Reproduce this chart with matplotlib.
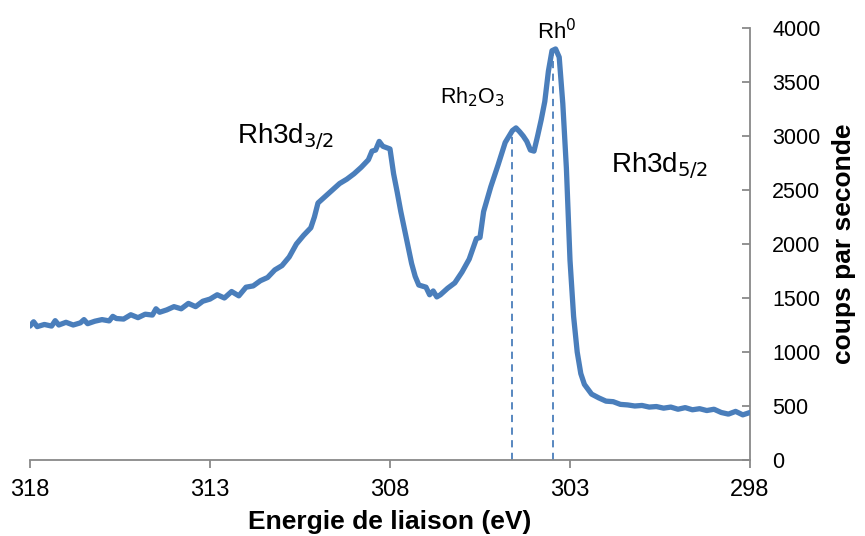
"""XPS spectrum of the Rh3d region (coups par seconde vs energie de liaison)."""

import matplotlib
matplotlib.use("Agg")
import matplotlib.pyplot as plt

# ---------------------------------------------------------------------------
# Data
# ---------------------------------------------------------------------------
energy = [
    318.0, 317.9, 317.8, 317.6, 317.4, 317.3, 317.2, 317.0, 316.8, 316.6,
    316.5, 316.4, 316.2, 316.0, 315.8, 315.7, 315.6, 315.4, 315.2, 315.0,
    314.8, 314.6, 314.5, 314.4, 314.2, 314.0, 313.8, 313.6, 313.4, 313.2,
    313.0, 312.8, 312.6, 312.4, 312.2, 312.0, 311.8, 311.6, 311.4, 311.2,
    311.0, 310.8, 310.6, 310.4, 310.2, 310.1, 310.0, 309.8, 309.6, 309.4,
    309.2, 309.0, 308.8, 308.6, 308.5, 308.4, 308.3, 308.2, 308.0, 307.9,
    307.8, 307.7, 307.6, 307.5, 307.4, 307.3, 307.2, 307.0, 306.9, 306.8,
    306.7, 306.6, 306.4, 306.2, 306.0, 305.8, 305.6, 305.5, 305.4, 305.2,
    305.0, 304.8, 304.6, 304.5, 304.4, 304.3, 304.2, 304.1, 304.0, 303.9,
    303.8, 303.7, 303.6, 303.5, 303.4, 303.3, 303.2, 303.1, 303.0, 302.9,
    302.8, 302.7, 302.6, 302.4, 302.2, 302.0, 301.8, 301.6, 301.4, 301.2,
    301.0, 300.8, 300.6, 300.4, 300.2, 300.0, 299.8, 299.6, 299.4, 299.2,
    299.0, 298.8, 298.6, 298.4, 298.2, 298.0,
]
counts = [
    1240, 1280, 1235, 1255, 1240, 1290, 1250, 1275, 1250, 1270,
    1300, 1262, 1285, 1300, 1288, 1330, 1310, 1305, 1345, 1318,
    1350, 1342, 1400, 1368, 1390, 1420, 1400, 1450, 1420, 1470,
    1490, 1530, 1500, 1560, 1520, 1600, 1612, 1660, 1690, 1760,
    1800, 1880, 2000, 2080, 2150, 2250, 2380, 2440, 2500, 2560,
    2600, 2650, 2710, 2780, 2860, 2870, 2950, 2905, 2880, 2650,
    2480, 2300, 2140, 1980, 1820, 1700, 1620, 1600, 1530, 1565,
    1510, 1530, 1590, 1640, 1740, 1860, 2050, 2060, 2300, 2530,
    2730, 2940, 3050, 3075, 3040, 3000, 2950, 2870, 2860, 3000,
    3150, 3320, 3600, 3790, 3806, 3730, 3300, 2700, 1850, 1330,
    1000, 800, 700, 610, 575, 545, 540, 515, 510, 500,
    505, 490, 495, 480, 490, 470, 485, 465, 475, 458,
    470, 440, 425, 450, 418, 440,
]

# Peak positions marked with dashed lines (energy, counts at top)
marker_energy = [304.6, 303.47]
marker_counts = [3060, 3790]

x_ticks = [318, 313, 308, 303, 298]
y_ticks = [0, 500, 1000, 1500, 2000, 2500, 3000, 3500, 4000]

LINE_COLOR = "#4a7ebb"
AXIS_COLOR = "#898989"

plt.rcParams["font.family"] = ["Liberation Sans", "DejaVu Sans"]

fig = plt.figure(figsize=(8.65, 5.36), dpi=100)
ax = fig.add_axes([30 / 865, 1 - 460 / 536, 720 / 865, 432 / 536])

ax.plot(energy, counts, color=LINE_COLOR, linewidth=3.8,
        solid_joinstyle="round", solid_capstyle="round", zorder=3)

for e, c in zip(marker_energy, marker_counts):
    ax.plot([e, e], [0, c], color=LINE_COLOR, linewidth=1.3,
            linestyle=(0, (4, 3)), zorder=2)

# Peak labels
ax.text(303.36, 3970, r"Rh$^0$", fontsize=16, ha="center", va="center")
ax.text(305.7, 3360, r"Rh$_2$O$_3$", fontsize=15.5, ha="center", va="center")
ax.text(310.9, 2990, r"Rh3d$_{3/2}$", fontsize=20, ha="center", va="center")
ax.text(300.5, 2730, r"Rh3d$_{5/2}$", fontsize=20, ha="center", va="center")

ax.set_xlim(318, 298)
ax.set_ylim(0, 4000)
ax.set_xticks(x_ticks)
ax.set_yticks(y_ticks)

ax.spines["top"].set_visible(False)
ax.spines["left"].set_visible(False)
for side in ("bottom", "right"):
    ax.spines[side].set_color(AXIS_COLOR)
    ax.spines[side].set_linewidth(1.3)

ax.yaxis.tick_right()
ax.yaxis.set_label_position("right")
ax.tick_params(axis="x", direction="out", length=6, width=1.3,
               color=AXIS_COLOR, labelsize=17, pad=8)
ax.tick_params(axis="y", direction="in", length=6, width=1.3,
               color=AXIS_COLOR, labelsize=15.5, pad=16)

ax.set_xlabel("Energie de liaison (eV)", fontsize=19, fontweight="bold",
              labelpad=6)
ax.set_ylabel("coups par seconde", fontsize=19, fontweight="bold",
              labelpad=8)

fig.savefig("out.png", dpi=100)
